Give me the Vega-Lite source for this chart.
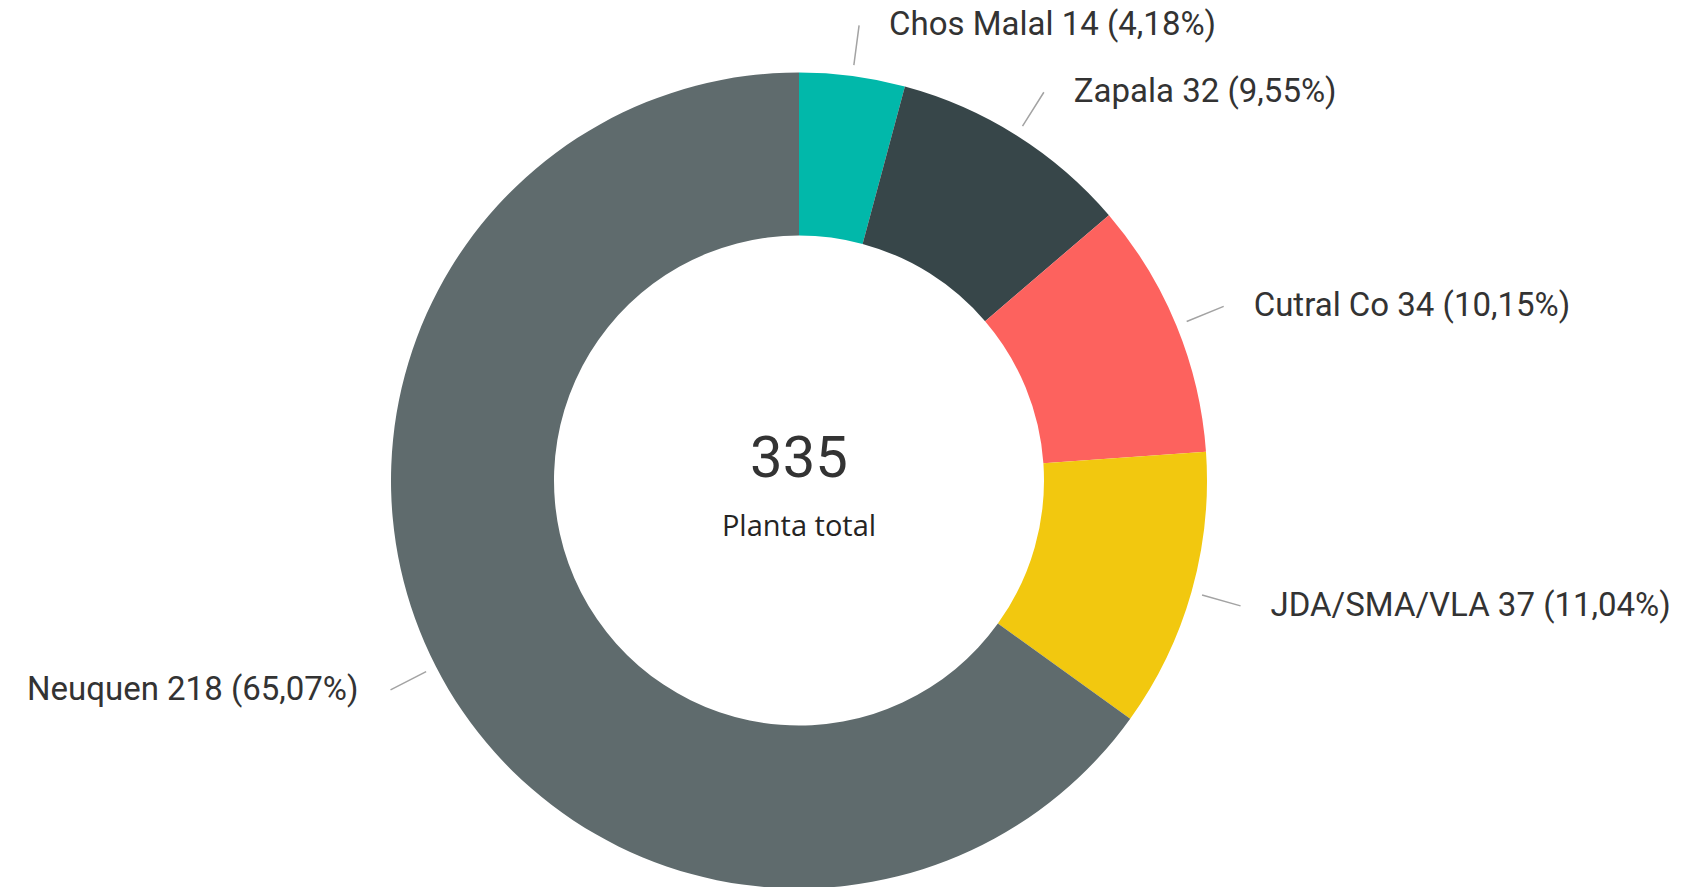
{
  "$schema": "https://vega.github.io/schema/vega-lite/v6.json",
  "width": 1598,
  "height": 811,
  "autosize": {"type": "none"},
  "padding": {"left": 0, "top": 75, "right": 84, "bottom": 1},
  "background": "white",
  "config": {"view": {"stroke": null}},
  "data": {
    "values": [
      {"name": "Chos Malal", "value": 14, "label": "Chos Malal 14 (4,18%)", "order": 1},
      {"name": "Zapala", "value": 32, "label": "Zapala 32 (9,55%)", "order": 2},
      {"name": "Cutral Co", "value": 34, "label": "Cutral Co 34 (10,15%)", "order": 3},
      {"name": "JDA/SMA/VLA", "value": 37, "label": "JDA/SMA/VLA 37 (11,04%)", "order": 4},
      {"name": "Neuquen", "value": 218, "label": "Neuquen 218 (65,07%)", "order": 5}
    ]
  },
  "layer": [
    {
      "mark": {"type": "arc", "innerRadius": 245, "outerRadius": 408},
      "encoding": {
        "theta": {"field": "value", "type": "quantitative", "stack": true},
        "order": {"field": "order", "type": "quantitative", "sort": "ascending"},
        "color": {
          "field": "name",
          "type": "nominal",
          "legend": null,
          "scale": {
            "domain": ["Chos Malal", "Zapala", "Cutral Co", "JDA/SMA/VLA", "Neuquen"],
            "range": ["#01B8AA", "#374649", "#FD625E", "#F2C80F", "#5F6B6D"]
          }
        }
      }
    },
    {
      "transform": [
        {"stack": "value", "groupby": [], "sort": [{"field": "order", "order": "ascending"}], "as": ["v0", "v1"]},
        {"fold": ["v0", "v1"], "as": ["k", "v"]},
        {"aggregate": [{"op": "mean", "field": "v", "as": "mid"}], "groupby": ["name"]}
      ],
      "mark": {"type": "arc", "innerRadius": 419, "outerRadius": 459, "stroke": "#a3a3a3", "strokeWidth": 1.5, "fillOpacity": 0},
      "encoding": {
        "theta": {"field": "mid", "type": "quantitative", "stack": null},
        "theta2": {"field": "mid"}
      }
    },
    {
      "mark": {"type": "text", "radius": 459, "align": "left", "baseline": "middle", "dx": 30, "font": "Roboto", "fontSize": 33, "color": "#333333"},
      "encoding": {
        "theta": {"field": "value", "type": "quantitative", "stack": true},
        "order": {"field": "order", "type": "quantitative", "sort": "ascending"},
        "text": {"condition": {"test": "datum.name !== 'Neuquen'", "field": "label", "type": "nominal"}, "value": ""}
      }
    },
    {
      "mark": {"type": "text", "radius": 459, "align": "right", "baseline": "middle", "dx": -32, "font": "Roboto", "fontSize": 33, "color": "#333333"},
      "encoding": {
        "theta": {"field": "value", "type": "quantitative", "stack": true},
        "order": {"field": "order", "type": "quantitative", "sort": "ascending"},
        "text": {"condition": {"test": "datum.name === 'Neuquen'", "field": "label", "type": "nominal"}, "value": ""}
      }
    },
    {
      "transform": [{"aggregate": [{"op": "sum", "field": "value", "as": "total"}]}],
      "mark": {"type": "text", "align": "center", "baseline": "middle", "dy": -21, "font": "Roboto", "fontSize": 58, "color": "#333333"},
      "encoding": {"text": {"field": "total", "type": "quantitative"}}
    },
    {
      "transform": [{"aggregate": [{"op": "sum", "field": "value", "as": "total"}]}],
      "mark": {"type": "text", "align": "center", "baseline": "middle", "dy": 46, "font": "Open Sans", "fontSize": 29, "color": "#252423", "text": "Planta total"},
      "encoding": {}
    }
  ]
}
